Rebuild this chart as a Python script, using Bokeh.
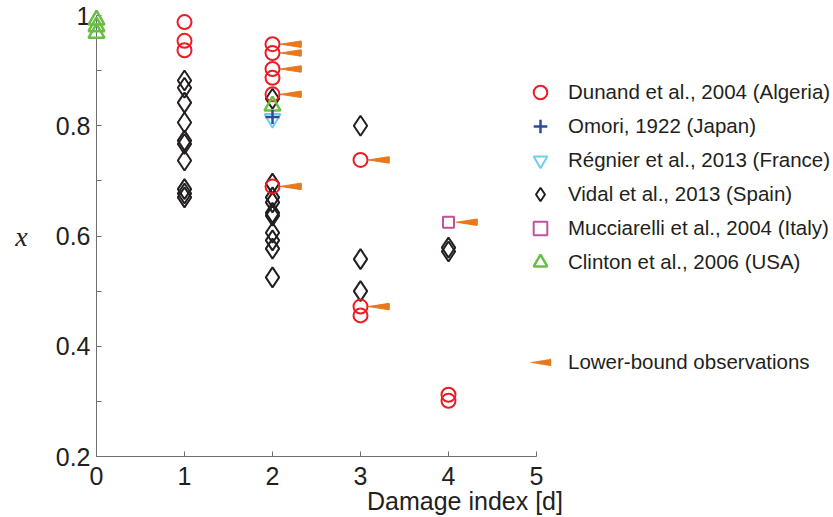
import numpy as np
from bokeh.plotting import figure
from bokeh.models import Range1d, FixedTicker, Legend, LegendItem, PolyAnnotation
from bokeh.embed import file_html
from bokeh.resources import INLINE

# ---------------- data ----------------
dunand_d = [1, 1, 1, 2, 2, 2, 2, 2, 2, 3, 3, 3, 4, 4]
dunand_x = [0.988, 0.954, 0.937, 0.948, 0.932, 0.903, 0.887, 0.857, 0.690,
            0.738, 0.472, 0.456, 0.312, 0.301]

omori_d = [2]
omori_x = [0.816]

regnier_d = [2]
regnier_x = [0.813]

vidal_d = [1] * 10 + [2] * 10 + [3] * 3 + [4] * 2
vidal_x = [0.882, 0.869, 0.842, 0.806, 0.773, 0.767, 0.737, 0.685, 0.677, 0.670,
           0.849, 0.695, 0.670, 0.661, 0.642, 0.637, 0.606, 0.592, 0.577, 0.525,
           0.800, 0.558, 0.500,
           0.579, 0.572]

mucc_d = [4]
mucc_x = [0.625]

clinton_d = [0, 0, 0, 2]
clinton_x = [0.992, 0.980, 0.968, 0.836]

lower_d = [2, 2, 2, 2, 2, 3, 3, 4]
lower_x = [0.948, 0.932, 0.903, 0.857, 0.690, 0.738, 0.472, 0.625]

x_ticks = [0, 1, 2, 3, 4, 5]
y_ticks = [0.2, 0.4, 0.6, 0.8, 1.0]
y_minor_ticks = [0.3, 0.5, 0.7, 0.9]
y_tick_labels = {0.2: "0.2", 0.4: "0.4", 0.6: "0.6", 0.8: "0.8", 1.0: "1"}

labels = ["Dunand et al., 2004 (Algeria)", "Omori, 1922 (Japan)",
          "Régnier et al., 2013 (France)", "Vidal et al., 2013 (Spain)",
          "Mucciarelli et al., 2004 (Italy)", "Clinton et al., 2006 (USA)"]
lower_label = "Lower-bound observations"

# ---------------- styling ----------------
RED = "#ED1C24"
BLUE = "#2E4A9E"
CYAN = "#6DCFF0"
BLACK = "#231F20"
MAGENTA = "#C050A0"
GREEN = "#6ABD45"
ORANGE = "#E8771E"
AXIS = "#6D6E70"
FONT = "Liberation Sans"

W, H = 833, 517
LEFT, TOP, BOTTOM = 96, 15, 61
frame_w = W - LEFT
x_end = 5 * frame_w / 440.0

p = figure(width=W, height=H, output_backend="svg", toolbar_location=None,
           x_range=Range1d(0, x_end), y_range=Range1d(0.2, 1.0),
           min_border_left=LEFT, min_border_right=0,
           min_border_top=TOP, min_border_bottom=BOTTOM)
p.xgrid.visible = False
p.ygrid.visible = False
p.outline_line_color = None
p.background_fill_color = "white"
p.border_fill_color = "white"

# x axis
xa = p.xaxis[0]
xa.bounds = (0, 5)
xa.ticker = FixedTicker(ticks=x_ticks)
xa.major_tick_in = 5
xa.major_tick_out = 0
xa.minor_tick_line_color = None
xa.axis_line_color = AXIS
xa.major_tick_line_color = AXIS
xa.major_label_text_font = FONT
xa.major_label_text_font_size = "25px"
xa.major_label_text_color = BLACK
xa.major_label_standoff = 10
xa.axis_label = "Damage index [d]"
xa.axis_label_text_font = FONT
xa.axis_label_text_font_size = "25px"
xa.axis_label_text_font_style = "normal"
xa.axis_label_text_color = BLACK
xa.axis_label_standoff = -1

# y axis
ya = p.yaxis[0]
ya.bounds = (0.2, 1.0)
ya.ticker = FixedTicker(ticks=y_ticks, minor_ticks=y_minor_ticks)
ya.major_label_overrides = y_tick_labels
ya.major_tick_in = 5
ya.major_tick_out = 0
ya.minor_tick_in = 5
ya.minor_tick_out = 0
ya.axis_line_color = AXIS
ya.major_tick_line_color = AXIS
ya.minor_tick_line_color = AXIS
ya.major_label_text_font = FONT
ya.major_label_text_font_size = "25px"
ya.major_label_text_color = BLACK
ya.major_label_standoff = 6
ya.axis_label = "x"
ya.axis_label_text_font = "Liberation Serif"
ya.axis_label_text_font_size = "28px"
ya.axis_label_text_font_style = "italic"
ya.axis_label_text_color = BLACK
ya.axis_label_orientation = "horizontal"
ya.axis_label_standoff = 25

# ---------------- glyphs ----------------
r_lower = p.wedge(x=np.array(lower_d) + 0.09, y=lower_x, radius=21, radius_units="screen",
                  start_angle=-0.155, end_angle=0.155, fill_color=ORANGE, line_color=ORANGE,
                  line_width=1)
r_vidal = p.scatter(vidal_d, vidal_x, marker="diamond", size=20, fill_color=None,
                    line_color=BLACK, line_width=2)
r_dunand = p.scatter(dunand_d, dunand_x, marker="circle", size=14, fill_color=None,
                     line_color=RED, line_width=2)
r_clinton = p.scatter(clinton_d, clinton_x, marker="triangle", size=16, fill_color=None,
                      line_color=GREEN, line_width=2.5)
r_regnier = p.scatter(regnier_d, regnier_x, marker="inverted_triangle", size=16,
                      fill_color=None, line_color=CYAN, line_width=2)
r_omori = p.scatter(omori_d, omori_x, marker="cross", size=14, line_color=BLUE,
                    line_width=2.5)
r_mucc = p.scatter(mucc_d, mucc_x, marker="square", size=11, fill_color=None,
                   line_color=MAGENTA, line_width=2)

for r in [r_lower, r_vidal, r_dunand, r_clinton, r_regnier, r_omori, r_mucc]:
    r.level = "overlay"

# legend entry for the lower bounds: text from the Legend, key drawn as a wedge shape
r_lower_key = p.scatter(lower_d, lower_x, marker="triangle", fill_alpha=0, line_alpha=0,
                        visible=False)

LEG_X, LEG_Y = 427, 177          # main legend offset inside the frame (px)
LOW_X, LOW_Y, LOW_G = 432, 82, 24  # lower-bound legend offset and key box (px)

legend_main = Legend(items=[LegendItem(label=labels[0], renderers=[r_dunand]),
                            LegendItem(label=labels[1], renderers=[r_omori]),
                            LegendItem(label=labels[2], renderers=[r_regnier]),
                            LegendItem(label=labels[3], renderers=[r_vidal]),
                            LegendItem(label=labels[4], renderers=[r_mucc]),
                            LegendItem(label=labels[5], renderers=[r_clinton])],
                     location=(LEG_X, LEG_Y))
legend_main.glyph_width = 34
legend_main.glyph_height = 34
legend_main.label_standoff = 11

legend_lower = Legend(items=[LegendItem(label=lower_label, renderers=[r_lower_key])],
                      location=(LOW_X, LOW_Y))
legend_lower.glyph_width = LOW_G
legend_lower.glyph_height = LOW_G
legend_lower.label_standoff = 16

for lg in (legend_main, legend_lower):
    lg.spacing = 0
    lg.padding = 0
    lg.margin = 0
    lg.click_policy = "none"
    lg.inactive_fill_alpha = 0
    lg.label_text_font = FONT
    lg.label_text_font_size = "20.5px"
    lg.label_text_color = BLACK
    lg.border_line_color = None
    lg.background_fill_alpha = 0
    p.add_layout(lg, "center")

# key shape (left-pointing wedge) centred in the lower legend's key box
kx = LEFT + LOW_X + LOW_G / 2
ky = (H - BOTTOM) - (LOW_Y + LOW_G / 2)
key = PolyAnnotation(xs=[kx - 10.5, kx + 10.5, kx + 10.5], ys=[ky, ky - 3.5, ky + 3.5],
                     xs_units="canvas", ys_units="canvas",
                     fill_color=ORANGE, fill_alpha=1.0, line_color=ORANGE, line_width=1,
                     level="overlay")
p.add_layout(key)

open("out.html", "w").write(file_html(p, INLINE))
